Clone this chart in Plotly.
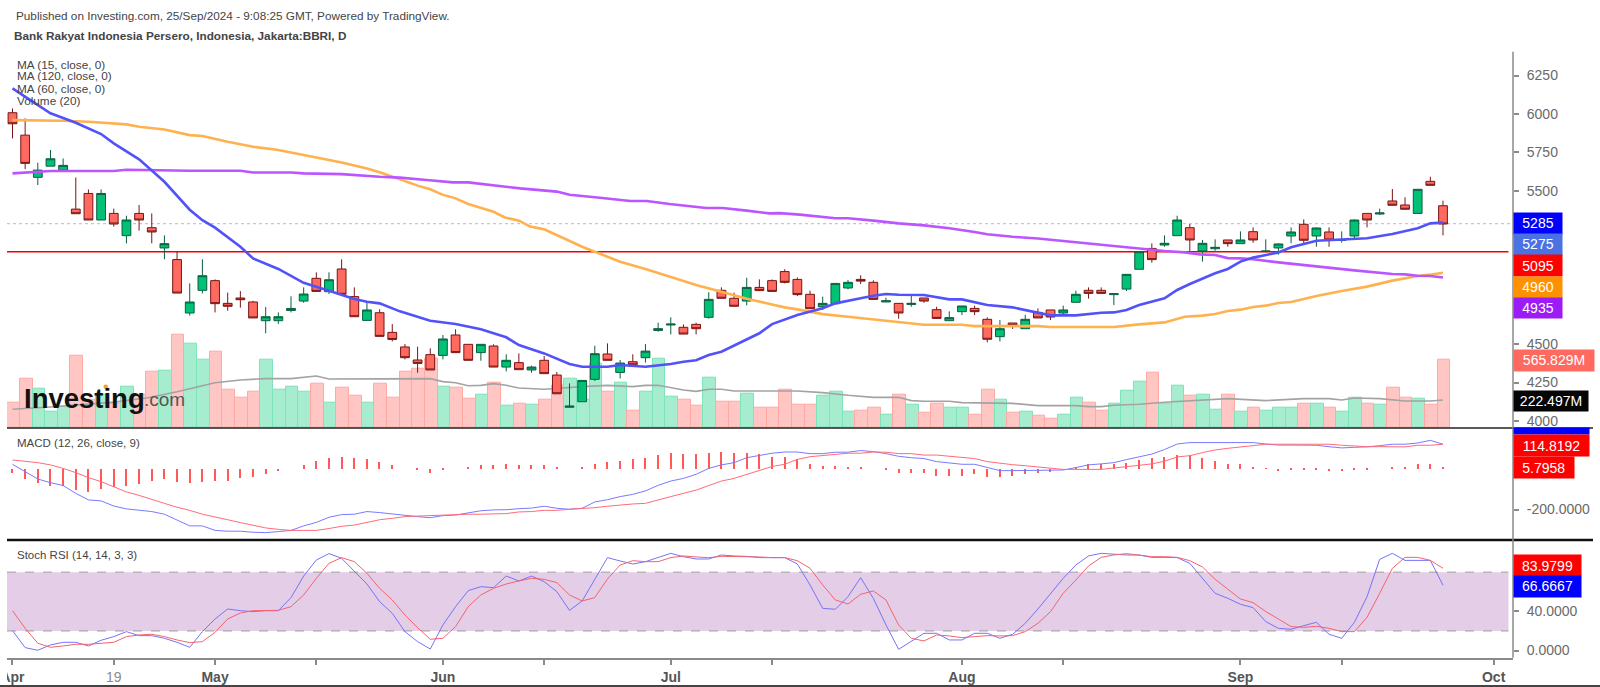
#!/usr/bin/env python3
"""BBRI daily chart with MA, volume, MACD and Stoch RSI panes."""

import plotly.graph_objects as go

# ── Price candles ───────────────────────────────────────────────────────────
DIRECTION = ("RRGGGRRGRG" "RRGRGGRRRR" "GGGGRGRRGR" "RRRRGRRGRG" "RGRRGGGRGR"
             "GGGRRGRRGR" "RRRRGGGRRG" "RGRRGGRRGR" "GRRGGRRGGG" "RGGRGGRGRG"
             "GGRGRGGRGR" "RGRR")
BODY_TOP = [6008, 5862, 5634, 5708, 5665, 5380, 5482, 5482, 5352, 5309,
            5352, 5259, 5155, 5051, 4775, 4946, 4914, 4766, 4801, 4775,
            4679, 4679, 4733, 4827, 4929, 4920, 4990, 4810, 4723, 4705,
            4577, 4482, 4397, 4432, 4534, 4560, 4499, 4499, 4488, 4395,
            4380, 4351, 4395, 4299, 4097, 4264, 4438, 4436, 4377, 4386,
            4455, 4601, 4631, 4610, 4629, 4792, 4851, 4799, 4870, 4870,
            4914, 4973, 4922, 4825, 4766, 4896, 4903, 4922, 4903, 4783,
            4766, 4766, 4801, 4725, 4673, 4749, 4733, 4662, 4601, 4638,
            4662, 4707, 4723, 4723, 4825, 4851, 4851, 4829, 4955, 5103,
            5124, 5157, 5309, 5259, 5157, 5131, 5179, 5179, 5233, 5107,
            5153, 5231, 5281, 5257, 5231, 5181, 5309, 5352, 5355, 5433,
            5407, 5509, 5561, 5402]
BODY_BOT = [5936, 5678, 5587, 5660, 5634, 5350, 5309, 5309, 5283, 5207,
            5309, 5231, 5127, 4833, 4703, 4851, 4764, 4747, 4790, 4671,
            4653, 4653, 4720, 4781, 4844, 4842, 4825, 4679, 4655, 4551,
            4531, 4412, 4375, 4332, 4427, 4445, 4395, 4445, 4351, 4351,
            4334, 4332, 4308, 4177, 4089, 4125, 4271, 4395, 4316, 4366,
            4412, 4590, 4625, 4566, 4601, 4675, 4799, 4747, 4781, 4849,
            4844, 4903, 4823, 4731, 4744, 4764, 4866, 4911, 4792, 4775,
            4703, 4759, 4781, 4668, 4653, 4712, 4712, 4532, 4549, 4623,
            4601, 4671, 4677, 4703, 4773, 4831, 4831, 4823, 4859, 4988,
            5051, 5146, 5207, 5179, 5107, 5122, 5155, 5155, 5179, 5103,
            5127, 5205, 5177, 5205, 5179, 5177, 5205, 5309, 5348, 5405,
            5379, 5352, 5535, 5283]
HIGH = [6036, 5971, 5682, 5765, 5710, 5586, 5508, 5508, 5383, 5337,
        5407, 5352, 5209, 5103, 4896, 5053, 4922, 4836, 4846, 4783,
        4742, 4707, 4812, 4870, 4968, 4968, 5053, 4870, 4777, 4727,
        4631, 4501, 4484, 4473, 4560, 4597, 4499, 4499, 4499, 4434,
        4440, 4360, 4423, 4319, 4245, 4264, 4490, 4505, 4397, 4434,
        4501, 4640, 4675, 4629, 4640, 4838, 4870, 4836, 4933, 4922,
        4922, 4988, 4935, 4849, 4810, 4896, 4918, 4949, 4916, 4803,
        4766, 4814, 4801, 4744, 4714, 4749, 4751, 4675, 4657, 4638,
        4692, 4733, 4723, 4751, 4849, 4870, 4870, 4829, 4955, 5103,
        5157, 5209, 5337, 5283, 5179, 5183, 5179, 5235, 5261, 5183,
        5157, 5261, 5313, 5261, 5261, 5235, 5313, 5352, 5383, 5511,
        5457, 5509, 5591, 5435]
LOW = [5841, 5641, 5537, 5660, 5634, 5350, 5309, 5309, 5266, 5157,
       5240, 5157, 5053, 4833, 4686, 4831, 4707, 4718, 4738, 4671,
       4571, 4632, 4707, 4770, 4844, 4827, 4825, 4679, 4655, 4551,
       4518, 4401, 4314, 4332, 4401, 4445, 4395, 4392, 4351, 4323,
       4334, 4314, 4308, 4177, 4089, 4125, 4260, 4395, 4277, 4360,
       4380, 4581, 4564, 4566, 4564, 4666, 4799, 4747, 4753, 4849,
       4844, 4896, 4814, 4731, 4723, 4764, 4857, 4892, 4792, 4775,
       4666, 4744, 4770, 4668, 4653, 4690, 4690, 4512, 4518, 4599,
       4601, 4671, 4657, 4690, 4773, 4797, 4831, 4755, 4846, 4988,
       5031, 5135, 5207, 5103, 5038, 5109, 5135, 5155, 5161, 5103,
       5083, 5157, 5157, 5135, 5135, 5161, 5190, 5261, 5342, 5405,
       5379, 5352, 5535, 5209]

# ── Volume (millions) ───────────────────────────────────────────────────────
VOLUME = [214, 413, 330, 133, 178, 599, 233, 275, 205, 344,
          275, 466, 477, 774, 699, 566, 633, 322, 255, 300,
          566, 322, 344, 300, 366, 214, 333, 266, 214, 366,
          255, 466, 497, 574, 344, 333, 247, 278, 377, 183,
          203, 192, 233, 355, 413, 233, 538, 303, 377, 147,
          300, 574, 258, 233, 183, 422, 222, 222, 289, 167,
          167, 322, 192, 192, 266, 300, 133, 147, 167, 114,
          278, 192, 125, 200, 167, 167, 114, 322, 233, 125,
          136, 103, 81, 114, 255, 214, 147, 200, 311, 389,
          463, 205, 355, 269, 281, 156, 281, 134, 170, 147,
          170, 170, 203, 203, 170, 136, 256, 203, 192, 333,
          256, 247, 192, 566]
VOL_MA_IDX = [0, 3, 8, 10.6, 13, 16, 18, 20, 22, 24, 25, 31, 33, 34, 35, 36, 37, 38, 39, 40,
              41, 42, 45, 47, 49, 50, 51, 53, 54, 55, 56, 57, 62, 64, 66, 68, 70, 71, 72, 74,
              75, 79, 81, 84, 85, 86, 87, 89, 91, 93, 94, 96, 99, 102, 104, 105, 106, 108, 110, 112, 113]
VOL_MA = [156, 175, 215, 250, 302, 377, 400, 411, 411, 433, 408, 411, 411, 386, 377, 352, 355, 369, 355, 333,
          330, 322, 344, 355, 344, 355, 355, 316, 305, 322, 322, 308, 308, 294, 272, 255, 255, 228, 222, 222,
          211, 205, 186, 186, 178, 178, 189, 197, 214, 228, 233, 244, 228, 244, 244, 233, 250, 244, 225, 225, 233]

# ── Moving averages ─────────────────────────────────────────────────────────
MA15_IDX = [0, 3, 5, 7, 8, 10, 12, 14, 15, 16, 18, 19, 21, 23, 25, 27, 28, 29, 30.6, 33,
            35, 37, 39, 40, 42, 44, 45, 47, 48, 49, 50, 52, 53, 54, 55, 56, 57, 59, 60, 62,
            64, 65, 67, 68, 69, 70, 72, 73, 74, 75, 76, 77, 79, 80, 81, 82, 84, 86, 87, 88,
            89, 90, 91, 92, 93, 95, 96, 97, 98, 100, 101, 103, 105, 107, 109, 111, 112, 113]
MA15 = [6166, 6004, 5943, 5869, 5808, 5704, 5558, 5376, 5308, 5259, 5135, 5059, 4990, 4900, 4848, 4794, 4777, 4766, 4714, 4653,
        4631, 4597, 4545, 4494, 4440, 4371, 4353, 4353, 4364, 4358, 4353, 4371, 4386, 4395, 4429, 4451, 4490, 4571, 4631, 4690,
        4734, 4766, 4799, 4816, 4827, 4822, 4820, 4807, 4792, 4792, 4772, 4755, 4740, 4723, 4705, 4688, 4688, 4705, 4707, 4723,
        4755, 4777, 4799, 4853, 4892, 4962, 4990, 5038, 5064, 5098, 5131, 5174, 5183, 5190, 5218, 5255, 5287, 5292]
MA120_IDX = [0, 4, 6, 9, 10, 12, 14, 15, 17, 19, 21, 23, 26, 28, 29, 30.6, 32, 33, 33.9, 35,
             36, 38, 38.9, 40, 40.9, 42, 44, 45, 47, 48, 50, 52, 54, 56, 58, 60, 61, 62, 64, 66,
             68, 70, 72, 75, 76, 79, 81, 82, 87, 89, 91, 92.6, 94, 95, 96, 97, 98, 99, 100, 101,
             103, 105, 106, 107, 109, 111, 112, 113]
MA120 = [5960, 5956, 5949, 5932, 5917, 5899, 5862, 5856, 5819, 5786, 5765, 5732, 5684, 5645, 5620, 5574, 5533, 5509, 5476, 5450,
         5413, 5363, 5326, 5305, 5266, 5248, 5172, 5135, 5070, 5037, 4990, 4940, 4885, 4842, 4796, 4759, 4740, 4727, 4696, 4679,
         4662, 4646, 4627, 4627, 4618, 4618, 4618, 4612, 4612, 4629, 4642, 4679, 4686, 4697, 4716, 4725, 4742, 4751, 4768, 4775,
         4814, 4846, 4862, 4875, 4914, 4944, 4953, 4966]
MA60_IDX = [0, 1, 3, 8, 9, 14, 18, 19, 22, 23, 26, 29, 30.6, 32.7, 34.8, 36, 38, 40.1, 43, 44,
            46.4, 48.8, 50.1, 51.9, 54.8, 56.1, 58, 59.8, 60.6, 62.2, 65, 66, 68, 70, 72, 74, 76, 77, 79, 81,
            83, 85, 87, 89, 91, 92.6, 93.8, 95, 96, 97, 98, 100, 102, 104, 106, 109, 110, 111, 112, 113]
MA60 = [5613, 5619, 5628, 5628, 5636, 5630, 5630, 5619, 5619, 5613, 5608, 5591, 5585, 5570, 5554, 5554, 5535, 5515, 5494, 5474,
        5454, 5433, 5433, 5413, 5387, 5387, 5370, 5352, 5354, 5344, 5320, 5320, 5305, 5287, 5274, 5255, 5231, 5216, 5200, 5189,
        5172, 5155, 5140, 5120, 5107, 5098, 5085, 5081, 5061, 5059, 5053, 5033, 5014, 4998, 4981, 4957, 4955, 4946, 4944, 4935]

LAST_PRICE = 5285
SUPPORT_LINE = 5103

# ── MACD ────────────────────────────────────────────────────────────────────
MACD = [21, -15, -51, -69, -83, -121, -153, -158, -183, -197,
        -202, -210, -223, -253, -280, -280, -302, -306, -306, -311,
        -313, -308, -302, -280, -263, -238, -225, -223, -210, -215,
        -222, -230, -235, -240, -230, -227, -215, -206, -202, -201,
        -196, -193, -184, -194, -199, -194, -163, -152, -137, -126,
        -109, -82, -61, -48, -28, 1, 18, 29, 53, 63,
        75, 81, 81, 73, 73, 80, 80, 88, 83, 73,
        60, 53, 49, 34, 26, 21, 21, 5, -10, -10,
        -10, -10, -10, -7, 5, 18, 23, 29, 44, 58,
        71, 93, 120, 127, 127, 127, 127, 127, 127, 120,
        115, 115, 115, 114, 107, 101, 104, 106, 112, 119,
        119, 125, 138, 119]
SIGNAL = [42, 36, 29, 18, 1, -20, -44, -64, -90, -114,
          -131, -152, -170, -189, -204, -223, -238, -250, -264, -277,
          -290, -297, -302, -302, -302, -293, -282, -276, -264, -250,
          -243, -235, -232, -230, -225, -223, -223, -223, -223, -220,
          -212, -210, -204, -204, -199, -196, -191, -184, -178, -173,
          -170, -152, -137, -121, -105, -83, -61, -48, -28, -8,
          10, 21, 45, 58, 63, 70, 75, 75, 81, 80,
          73, 73, 66, 66, 60, 55, 49, 34, 26, 19,
          14, 8, 0, -4, -4, -4, -4, 3, 8, 16,
          23, 36, 57, 63, 78, 91, 99, 107, 112, 119,
          119, 119, 119, 119, 119, 114, 110, 107, 107, 106,
          106, 114, 114, 119]
HISTOGRAM = [-23, -52, -72, -85, -85, -103, -112, -99, -90, -85,
             -73, -60, -50, -64, -72, -64, -60, -59, -47, -39,
             -26, -10, 0, 18, 37, 50, 59, 50, 46, 31,
             18, 0, -6, -20, -5, 0, 5, 18, 18, 23,
             18, 18, 18, 5, 0, 5, 23, 31, 37, 46,
             50, 64, 77, 70, 70, 77, 83, 77, 77, 70,
             57, 57, 46, 23, 11, 11, 5, 6, 0, -7,
             -23, -23, -23, -34, -34, -34, -28, -41, -41, -34,
             -26, -21, -15, 0, 3, 21, 23, 24, 29, 44,
             50, 59, 64, 64, 50, 37, 23, 20, 6, -2,
             -11, -3, -7, -3, -10, -11, -5, -3, 0, 5,
             5, 21, 21, 5]

# ── Stoch RSI ───────────────────────────────────────────────────────────────
STOCH_K = [20.3, 3, 0.3, 5.7, 8.4, 8.4, 4.7, 10.5, 14.2, 19.3,
           15.2, 15.2, 12.5, 8.4, 3.3, 19.3, 32.2, 42.4, 40.7, 39.7,
           40.7, 40.7, 54, 76, 92.4, 98.9, 94.1, 80.5, 67.9, 49.9,
           38, 19.3, 9.1, 1.6, 26.1, 44.8, 61.1, 65.2, 64.2, 76,
           71, 76, 70.3, 60.1, 41, 50.6, 72, 94.8, 91.4, 88.3,
           90.7, 95.1, 99.2, 95.8, 93.4, 93.4, 97.5, 96.5, 96.1, 94.8,
           94.8, 94.8, 88.3, 66.9, 43.1, 42.1, 55, 74.4, 53.3, 26.1,
           1.3, 9.1, 17.6, 17.6, 10.8, 10.8, 17.6, 17.6, 12.5, 16.6,
           27.8, 42.4, 58.4, 73.7, 87.3, 96.5, 99.2, 98.2, 97.5, 97.5,
           95.1, 95.1, 94.8, 89, 73.7, 58.4, 53.3, 47.2, 43.8, 29.5,
           22.7, 21.7, 25.4, 28.8, 16.6, 12.5, 28.8, 55, 93.1, 99.2,
           92, 92, 92, 66.67]
STOCH_D = [40.7, 22.7, 7.4, 3.3, 4.7, 6.4, 6.4, 7.4, 8.4, 14.2,
           15.9, 16.6, 14.2, 10.8, 8.1, 9.1, 18.6, 32.2, 38.3, 40.7,
           41, 41, 44.8, 56.7, 73.7, 89, 94.8, 90.7, 78.8, 63.5,
           51.6, 36.3, 23.4, 11.5, 12.5, 24.4, 44.8, 56.7, 63.5, 67.9,
           71, 73.7, 72.7, 69.3, 56.7, 50.6, 54, 73, 87.3, 91.7,
           90.7, 90.7, 94.8, 96.5, 95.5, 94.8, 96.1, 96.1, 96.1, 95.5,
           94.8, 94.8, 91.7, 83.9, 66.9, 51.6, 47.5, 57.4, 60.8, 51.6,
           26.1, 12.5, 9.8, 15.9, 14.9, 13.2, 14.2, 15.2, 14.9, 15.2,
           19.3, 27.8, 39.7, 58.4, 72, 86.3, 95.1, 97.5, 98.9, 97.5,
           95.8, 95.8, 95.1, 91.7, 85.3, 72.7, 62.8, 52.6, 48.9, 39.7,
           32.2, 24.4, 23.7, 24.7, 22.7, 19.3, 19.3, 33.9, 58.4, 83.9,
           95.1, 95.1, 92, 83.98]

# ── Axis ticks (levels hidden behind the value tags are left out) ───────────
X_TICKS = [0, 8, 16, 24, 34, 42, 52, 60, 75, 83, 97, 105, 117]
X_LABELS = ["<b>Apr</b>", "<span style='color:#8a8a8a'>19</span>", "<b>May</b>", "", "<b>Jun</b>", "",
            "<b>Jul</b>", "", "<b>Aug</b>", "", "<b>Sep</b>", "", "<b>Oct</b>"]
PRICE_TICKS = [4000, 4250, 4500, 5500, 5750, 6000, 6250]
MACD_TICKS = [-200]
MACD_LABELS = ["-200.0000"]
STOCH_TICKS = [0, 40]
STOCH_LABELS = ["0.0000", "40.0000"]

# ── Style ───────────────────────────────────────────────────────────────────
W, H = 1600, 687
FONT = "Liberation Sans"
GREY = "#6a6a6a"
AXIS = "#8a8a8a"
PANE_TOP, PANE_MACD, PANE_STOCH, PANE_BOTTOM = 51.7, 428, 540, 657.7
PLOT_LEFT, PLOT_RIGHT = 7, 1513


def px(x):
    return x / W


def py(y):
    return 1 - y / H


n = len(DIRECTION)
assert all(len(a) == n for a in (BODY_TOP, BODY_BOT, HIGH, LOW, VOLUME, MACD, SIGNAL, HISTOGRAM, STOCH_K, STOCH_D))
assert len(MA15_IDX) == len(MA15) and len(MA120_IDX) == len(MA120) and len(MA60_IDX) == len(MA60)
assert len(VOL_MA_IDX) == len(VOL_MA)

bars = list(range(n))
opens = [b if d == "G" else t for d, t, b in zip(DIRECTION, BODY_TOP, BODY_BOT)]
closes = [t if d == "G" else b for d, t, b in zip(DIRECTION, BODY_TOP, BODY_BOT)]

fig = go.Figure()

# volume sits on the base axis so candles are drawn over it
fig.add_trace(go.Bar(
    x=bars, y=VOLUME, width=1, offset=-0.42, yaxis="y",
    marker_color=["#a6ecce" if d == "G" else "#ffc6c3" for d in DIRECTION],
    marker_line_color=["#7fe3ba" if d == "G" else "#ffa9a4" for d in DIRECTION],
    marker_line_width=1,
))
fig.add_trace(go.Scatter(x=VOL_MA_IDX, y=VOL_MA, mode="lines", yaxis="y",
                         line=dict(color="#a3a3a3", width=1.6)))

fig.add_trace(go.Candlestick(
    x=bars, open=opens, high=HIGH, low=LOW, close=closes, yaxis="y4",
    increasing=dict(fillcolor="#00c176", line=dict(color="#0b5f3f", width=1)),
    decreasing=dict(fillcolor="#ff6a60", line=dict(color="#7a1414", width=1)),
    whiskerwidth=0,
))
for idx, vals, color in [(MA120_IDX, MA120, "#ffb14e"), (MA60_IDX, MA60, "#bb55ff"), (MA15_IDX, MA15, "#5252fb")]:
    fig.add_trace(go.Scatter(x=idx, y=vals, mode="lines", yaxis="y4", line=dict(color=color, width=2.6)))

# MACD pane
fig.add_trace(go.Bar(x=bars, y=HISTOGRAM, width=0.1, yaxis="y2", marker_color="#ff5858", marker_line_width=0))
fig.add_trace(go.Scatter(x=bars, y=MACD, mode="lines", yaxis="y2", line=dict(color="#7a7aff", width=1)))
fig.add_trace(go.Scatter(x=bars, y=SIGNAL, mode="lines", yaxis="y2", line=dict(color="#ff6b78", width=1)))

# Stoch RSI pane
fig.add_trace(go.Scatter(x=bars, y=STOCH_K, mode="lines", yaxis="y3", line=dict(color="#7474f5", width=1)))
fig.add_trace(go.Scatter(x=bars, y=STOCH_D, mode="lines", yaxis="y3", line=dict(color="#f4636e", width=1)))

shapes = [
    dict(type="rect", xref="x domain", yref="y3", x0=0, x1=0.997, y0=20, y1=80,
         fillcolor="#e4cde7", line_width=0, layer="below"),
    dict(type="line", xref="x domain", yref="y3", x0=0, x1=0.997, y0=80, y1=80,
         line=dict(color="#9c9c9c", width=1, dash="dash"), layer="below"),
    dict(type="line", xref="x domain", yref="y3", x0=0, x1=0.997, y0=20, y1=20,
         line=dict(color="#9c9c9c", width=1, dash="dash"), layer="below"),
    dict(type="line", xref="x domain", yref="y4", x0=0, x1=1, y0=LAST_PRICE, y1=LAST_PRICE,
         line=dict(color="#aab8ee", width=1, dash="dot"), layer="below"),
    dict(type="line", xref="x domain", yref="y4", x0=0, x1=0.997, y0=SUPPORT_LINE, y1=SUPPORT_LINE,
         line=dict(color="#f00000", width=1.5), layer="below"),
    # pane separators and frame
    dict(type="line", xref="paper", yref="paper", x0=px(7), x1=px(1593), y0=py(PANE_MACD), y1=py(PANE_MACD),
         line=dict(color="#222222", width=1.5)),
    dict(type="line", xref="paper", yref="paper", x0=px(7), x1=px(1593), y0=py(PANE_STOCH), y1=py(PANE_STOCH),
         line=dict(color="#111111", width=2.5)),
    dict(type="line", xref="paper", yref="paper", x0=0, x1=1, y0=py(686), y1=py(686),
         line=dict(color="#444444", width=2)),
    dict(type="line", xref="paper", yref="paper", x0=px(PLOT_RIGHT), x1=px(PLOT_RIGHT), y0=py(PANE_BOTTOM), y1=py(PANE_TOP),
         line=dict(color=AXIS, width=1.5)),
    # the first month label is cut by the left edge of the chart
    dict(type="rect", xref="paper", yref="paper", x0=0, x1=px(PLOT_LEFT), y0=py(684), y1=py(660),
         fillcolor="white", line_width=0),
    # dot on the logo
    dict(type="circle", xref="paper", yref="paper", x0=px(103.5), x1=px(108), y0=py(389), y1=py(384.5),
         fillcolor="#f7a11f", line_width=0),
]


def text(x, y, s, size=11.75, color="#444444", anchor="left"):
    return dict(xref="paper", yref="paper", x=px(x), y=py(y), text=s, showarrow=False, xanchor=anchor,
                yanchor="middle", font=dict(family=FONT, size=size, color=color), borderpad=0)


def tag(y0, y1, right, s, bg):
    return dict(xref="paper", yref="paper", x=px(PLOT_RIGHT), y=py((y0 + y1) / 2), text=s, showarrow=False,
                xanchor="left", yanchor="middle", width=right - PLOT_RIGHT, height=y1 - y0, align="center",
                bgcolor=bg, borderpad=0, font=dict(family=FONT, size=14, color="white"))


annotations = [
    text(15, 15.3, "Published on Investing.com, 25/Sep/2024 - 9:08:25 GMT, Powered by TradingView."),
    text(13, 35.7, "<b>Bank Rakyat Indonesia Persero, Indonesia, Jakarta:BBRI, D</b>"),
    text(16, 64, "MA (15, close, 0)"),
    text(16, 76, "MA (120, close, 0)"),
    text(16, 88, "MA (60, close, 0)"),
    text(16, 101, "Volume (20)"),
    text(16, 443, "MACD (12, 26, close, 9)", size=11.5),
    text(16, 555, "Stoch RSI (14, 14, 3, 3)", size=11.5),
    text(23, 398, "<b>Investing</b>", size=27.5, color="#111111"),
    text(143, 400, ".com", size=19, color="#555555"),
    tag(213.3, 234, 1561, "5285", "#0000ff"),
    tag(234.6, 255.3, 1561, "5275", "#4a72e2"),
    tag(255.3, 276.3, 1561, "5095", "#ff0000"),
    tag(276.7, 297.5, 1561, "4960", "#ff9100"),
    tag(298, 318.3, 1561, "4935", "#9d1cf5"),
    tag(350, 370.7, 1593, "565.829M", "#ff6a60"),
    tag(390.7, 410.7, 1587, "222.497M", "#050505"),
    tag(428.5, 434.3, 1588, "", "#0000ff"),
    tag(434.3, 455.7, 1588, "114.8192", "#ff0000"),
    tag(457.3, 478.3, 1572.5, "5.7958", "#ff0000"),
    tag(555, 576, 1580, "83.9799", "#ff0000"),
    tag(576, 596.7, 1580, "66.6667", "#0000ff"),
]

tick_style = dict(tickfont=dict(family=FONT, size=14, color=GREY), ticks="outside", ticklen=5,
                  tickcolor=AXIS, tickwidth=1.5, showgrid=False, zeroline=False, ticklabelstandoff=5,
                  automargin=False)

fig.update_layout(
    width=W, height=H, margin=dict(l=0, r=0, t=0, b=0),
    paper_bgcolor="white", plot_bgcolor="white",
    showlegend=False, hovermode=False, bargap=0, barmode="overlay", boxgap=0.3, boxgroupgap=0.01,
    shapes=shapes, annotations=annotations,
    xaxis=dict(domain=[px(PLOT_LEFT), px(PLOT_RIGHT)], range=[-0.434, 118.53], anchor="y3",
               tickmode="array", tickvals=X_TICKS, ticktext=X_LABELS, rangeslider=dict(visible=False),
               tickfont=dict(family=FONT, size=14, color="#555555"), ticks="outside", ticklen=5,
               tickcolor=AXIS, tickwidth=1.5, showgrid=False, zeroline=False, automargin=False,
               showline=True, linecolor=AXIS, linewidth=2),
    yaxis=dict(domain=[py(PANE_MACD), py(PANE_TOP)], range=[0, 3131], visible=False, automargin=False),
    yaxis4=dict(overlaying="y", side="right", range=[3954, 6405.5], tickmode="array",
                tickvals=PRICE_TICKS, **tick_style),
    yaxis2=dict(domain=[py(PANE_STOCH), py(PANE_MACD)], range=[-349, 198.3], side="right", anchor="x",
                tickmode="array", tickvals=MACD_TICKS, ticktext=MACD_LABELS, **tick_style),
    yaxis3=dict(domain=[py(PANE_BOTTOM), py(PANE_STOCH)], range=[-7.3, 112.8], side="right", anchor="x",
                tickmode="array", tickvals=STOCH_TICKS, ticktext=STOCH_LABELS, **tick_style),
)

# drop the browser's default page margin so the figure fills the window
fig.write_html("out.html", config={"displayModeBar": False},
               post_script="document.body.style.margin = '0';")
